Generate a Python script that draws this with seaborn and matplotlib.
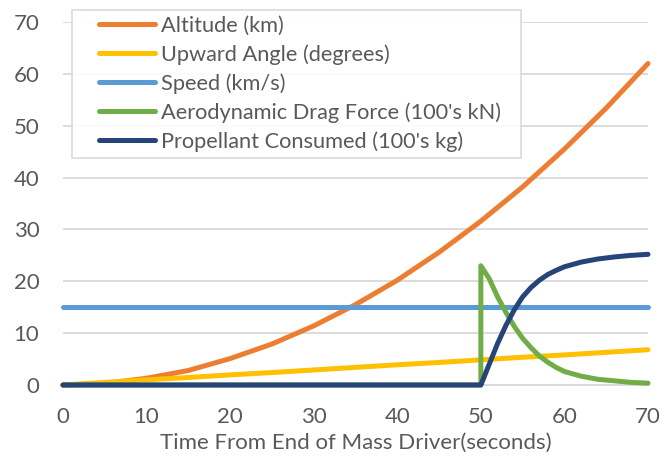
import matplotlib
matplotlib.use("Agg")
import matplotlib.pyplot as plt
from matplotlib.patches import Rectangle
import seaborn as sns

# Values
time_main = [0, 5, 10, 15, 20, 25, 30, 35, 40, 45, 50, 55, 60, 65, 70]
altitude = [0, 0.3, 1.3, 2.8, 5.1, 7.9, 11.4, 15.5, 20.2, 25.6, 31.6, 38.2, 45.5, 53.4, 62.0]
upward_angle = [0, 0.5, 1.0, 1.45, 1.95, 2.4, 2.9, 3.4, 3.9, 4.35, 4.85, 5.35, 5.8, 6.3, 6.8]
speed = [15] * len(time_main)

time_drag = [0, 50, 50, 51, 52, 53, 54, 55, 56, 57, 58, 59, 60, 62, 64, 66, 68, 70]
drag = [0, 0, 23, 20.5, 17, 14, 11.3, 9, 7.2, 5.6, 4.4, 3.4, 2.6, 1.7, 1.1, 0.8, 0.5, 0.35]

time_prop = [0, 50, 51, 52, 53, 54, 55, 56, 57, 58, 59, 60, 62, 64, 66, 68, 70]
propellant = [0, 0, 4, 8, 11.5, 14.5, 17, 18.8, 20.2, 21.3, 22.1, 22.8, 23.7, 24.3, 24.7, 25.0, 25.2]

series = [
    ("Altitude (km)", time_main, altitude, "#ED7D31"),
    ("Upward Angle (degrees)", time_main, upward_angle, "#FFC000"),
    ("Speed (km/s)", time_main, speed, "#5B9BD5"),
    ("Aerodynamic Drag Force (100's kN)", time_drag, drag, "#70AD47"),
    ("Propellant Consumed (100's kg)", time_prop, propellant, "#264478"),
]

sns.set_style("white")
plt.rcParams['font.family'] = ['Lato', 'DejaVu Sans']

W, H = 672, 465
fig = plt.figure(figsize=(W / 100, H / 100), dpi=100)
ax = fig.add_axes([63 / W, 1 - 385 / H, 585 / W, 363 / H])

for label, xs, ys, color in series:
    sns.lineplot(x=xs, y=ys, ax=ax, color=color, linewidth=3.6, label=label,
                 estimator=None, sort=False, solid_capstyle='round', clip_on=False,
                 zorder=3)

ax.set_xlim(0, 70)
ax.set_ylim(0, 70)
ax.set_xticks(range(0, 71, 10))
ax.set_yticks(range(0, 71, 10))
ax.yaxis.grid(True, color="#D9D9D9", linewidth=1.3)
ax.set_axisbelow(True)
for side in ["top", "right", "left"]:
    ax.spines[side].set_visible(False)
ax.spines["bottom"].set_color("#D9D9D9")
ax.spines["bottom"].set_linewidth(1.3)
ax.tick_params(axis="both", length=0, labelsize=16, colors="#595959")
ax.tick_params(axis="x", pad=16)
ax.tick_params(axis="y", pad=17)
ax.set_xlabel("Time From End of Mass Driver(seconds)", fontsize=16, color="#595959", labelpad=4)

# legend box (frame drawn separately so the handles sit inset like the original)
ax.add_patch(Rectangle((72 / W, 1 - 158 / H), 449 / W, 148 / H,
                       transform=fig.transFigure, facecolor="white", alpha=0.9,
                       edgecolor="#D9D9D9", linewidth=1.3, zorder=4, clip_on=False))
leg = ax.legend(loc="upper left", bbox_to_anchor=(99 / W, 1 - 16 / H),
                bbox_transform=fig.transFigure, fontsize=15.7, frameon=False,
                handlelength=2.55, handletextpad=0.3, labelspacing=0.38,
                borderpad=0, borderaxespad=0, labelcolor="#595959")
leg.set_zorder(5)
for line in leg.get_lines():
    line.set_solid_capstyle('round')

fig.savefig("out.png", dpi=100)
